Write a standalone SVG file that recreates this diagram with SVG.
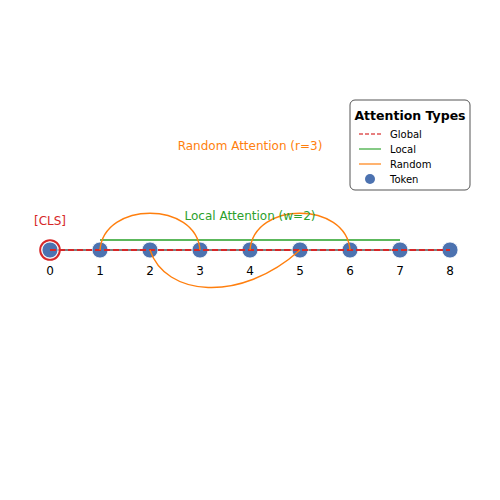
<svg xmlns="http://www.w3.org/2000/svg" width="500" height="500" viewBox="0 0 500 500">
<style>
text{font-family:"DejaVu Sans","Liberation Sans",sans-serif}
.node{fill:#4c72b0;stroke:#fff;stroke-width:0.8}
.lbl{font-size:12px;fill:#000;text-anchor:middle}
.rand{fill:none;stroke:#ff7f0e;stroke-width:1.4}
.leg{font-size:10px;fill:#000}
</style>
<rect width="500" height="500" fill="#fff"/>
<g id="connectors">
<line x1="50" y1="250" x2="450" y2="250" stroke="#555" stroke-width="1.5"/>
<line id="local" x1="100" y1="240" x2="400" y2="240" stroke="#5cb85c" stroke-width="2"/>
</g>
<g id="nodes">
<g id="n0"><circle cx="50" cy="250" r="9.8" fill="none" stroke="#d62728" stroke-width="2"/><circle class="node" cx="50" cy="250" r="8"/><text class="lbl" x="50" y="275">0</text></g>
<g id="n1"><circle class="node" cx="100" cy="250" r="8"/><text class="lbl" x="100" y="275">1</text></g>
<g id="n2"><circle class="node" cx="150" cy="250" r="8"/><text class="lbl" x="150" y="275">2</text></g>
<g id="n3"><circle class="node" cx="200" cy="250" r="8"/><text class="lbl" x="200" y="275">3</text></g>
<g id="n4"><circle class="node" cx="250" cy="250" r="8"/><text class="lbl" x="250" y="275">4</text></g>
<g id="n5"><circle class="node" cx="300" cy="250" r="8"/><text class="lbl" x="300" y="275">5</text></g>
<g id="n6"><circle class="node" cx="350" cy="250" r="8"/><text class="lbl" x="350" y="275">6</text></g>
<g id="n7"><circle class="node" cx="400" cy="250" r="8"/><text class="lbl" x="400" y="275">7</text></g>
<g id="n8"><circle class="node" cx="450" cy="250" r="8"/><text class="lbl" x="450" y="275">8</text></g>
</g>
<g id="overlay">
<line id="global" x1="50" y1="250" x2="450" y2="250" stroke="#d62728" stroke-width="2" stroke-dasharray="6,3"/>
<path class="rand" d="M100,250 C104,201 196,201 200,250"/>
<path class="rand" d="M250,250 C254,201 346,201 350,250"/>
<path class="rand" d="M150,250 C165,296 240,304 300,250"/>
</g>
<g id="labels">
<text x="50" y="225" font-size="12" fill="#d62728" text-anchor="middle">[CLS]</text>
<text x="250" y="220" font-size="12" fill="#2ca02c" text-anchor="middle">Local Attention (w=2)</text>
<text x="250" y="150" font-size="12" fill="#ff7f0e" text-anchor="middle">Random Attention (r=3)</text>
</g>
<g id="legend">
<rect x="350" y="100" width="120" height="90" rx="5" fill="#fff" stroke="#555" stroke-width="1"/>
<text x="410" y="120" font-size="12.5" font-weight="bold" text-anchor="middle">Attention Types</text>
<line x1="359" y1="134" x2="381" y2="134" stroke="#e05555" stroke-width="1.5" stroke-dasharray="4,2"/>
<text class="leg" x="390" y="138">Global</text>
<line x1="359" y1="149" x2="381" y2="149" stroke="#5cb85c" stroke-width="1.5"/>
<text class="leg" x="390" y="153">Local</text>
<line x1="359" y1="164" x2="381" y2="164" stroke="#ff9a40" stroke-width="1.5"/>
<text class="leg" x="390" y="168">Random</text>
<circle cx="370" cy="179" r="5" fill="#4c72b0"/>
<text class="leg" x="390" y="183">Token</text>
</g>
</svg>
